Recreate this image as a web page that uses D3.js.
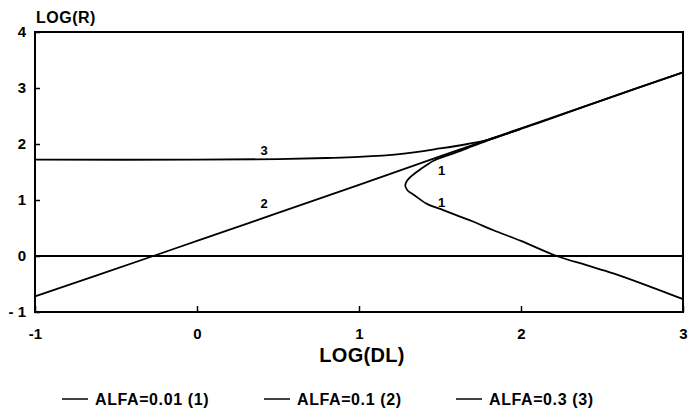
<!DOCTYPE html>
<html>
<head>
<meta charset="utf-8">
<script src="https://cdn.jsdelivr.net/npm/d3@7/dist/d3.min.js"></script>
<style>
  html, body { margin: 0; padding: 0; background: #fff; }
  svg { display: block; }
  text { font-family: "Liberation Sans", Arial, sans-serif; font-weight: bold; fill: #000; }
</style>
</head>
<body>
<svg id="chart" width="688" height="418"></svg>
<script>
// Axis ranges and tick values
const xDomain = [-1, 3];
const yDomain = [-1, 4];
const xTicks = [-1, 0, 1, 2, 3];
const yTicks = [-1, 0, 1, 2, 3, 4];

// ALFA=0.01 (1): C-shaped curve, upper branch joins curve 2, lower branch falls away
const curve1X = [2.0, 1.9, 1.8, 1.7, 1.6, 1.52, 1.46, 1.42, 1.356, 1.31, 1.29, 1.286, 1.30, 1.335, 1.42, 1.52, 1.6, 1.7, 1.83, 2.0, 2.22, 2.4, 2.57, 2.8, 3.0];
const curve1Y = [2.27, 2.17, 2.07, 1.96, 1.85, 1.77, 1.70, 1.63, 1.50, 1.39, 1.31, 1.25, 1.17, 1.10, 0.93, 0.82, 0.73, 0.62, 0.46, 0.27, 0.0, -0.16, -0.31, -0.55, -0.77];

// ALFA=0.1 (2): nearly straight rising line
const curve2X = [-1, -0.27, 0, 0.5, 1, 1.5, 2, 2.5, 3];
const curve2Y = [-0.72, 0.0, 0.27, 0.77, 1.27, 1.78, 2.28, 2.78, 3.28];

// ALFA=0.3 (3): flat plateau that bends up onto curve 2
const curve3X = [-1, 0, 0.5, 0.8, 1.0, 1.25, 1.5, 1.67, 1.8, 1.95, 2.1, 2.5, 3];
const curve3Y = [1.72, 1.72, 1.73, 1.75, 1.77, 1.82, 1.92, 2.0, 2.08, 2.22, 2.37, 2.78, 3.28];

// Reference line at LOG(R) = 0
const zeroLineY = 0;

// Curve number labels placed along the curves
const curveLabels = [
  { text: "3", x: 0.415, y: 1.89 },
  { text: "2", x: 0.415, y: 0.93 },
  { text: "1", x: 1.51, y: 1.52 },
  { text: "1", x: 1.51, y: 0.96 }
];

const legendItems = ["ALFA=0.01 (1)", "ALFA=0.1 (2)", "ALFA=0.3 (3)"];

const svg = d3.select("#chart");
const plot = { left: 35, right: 683, top: 32, bottom: 312 };

const x = d3.scaleLinear().domain(xDomain).range([plot.left, plot.right]);
const y = d3.scaleLinear().domain(yDomain).range([plot.bottom, plot.top]);

const zip = (xs, ys) => xs.map((v, i) => [v, ys[i]]);
const line = d3.line().x(d => x(d[0])).y(d => y(d[1])).curve(d3.curveCatmullRom.alpha(0.5));

// Frame
svg.append("rect")
  .attr("x", plot.left).attr("y", plot.top)
  .attr("width", plot.right - plot.left).attr("height", plot.bottom - plot.top)
  .attr("fill", "none").attr("stroke", "#000").attr("stroke-width", 2);

// Y axis with short inward ticks
const yAxis = svg.append("g")
  .attr("transform", `translate(${plot.left},0)`)
  .call(d3.axisLeft(y).tickValues(yTicks).tickSize(-5).tickPadding(9)
    .tickFormat(d => d < 0 ? "- " + Math.abs(d) : d));
yAxis.select(".domain").remove();
yAxis.selectAll("line").attr("stroke", "#000").attr("stroke-width", 1.5);
yAxis.selectAll("text").style("font-size", "15px").style("font-family", "Liberation Sans, Arial, sans-serif").style("font-weight", "bold");

// X axis with short inward ticks
const xAxis = svg.append("g")
  .attr("transform", `translate(0,${plot.bottom})`)
  .call(d3.axisBottom(x).tickValues(xTicks).tickSize(-6).tickPadding(16)
    .tickFormat(d => d));
xAxis.select(".domain").remove();
xAxis.selectAll("line").attr("stroke", "#000").attr("stroke-width", 1.5);
xAxis.selectAll("text").style("font-size", "15px").style("font-family", "Liberation Sans, Arial, sans-serif").style("font-weight", "bold");

// Axis titles
svg.append("text").attr("x", plot.left + 1).attr("y", 23)
  .style("font-size", "16px").style("letter-spacing", "0.5px").text("LOG(R)");
svg.append("text").attr("x", 362).attr("y", 362).attr("text-anchor", "middle")
  .style("font-size", "20px").style("letter-spacing", "0.3px").text("LOG(DL)");

// Zero reference line
svg.append("line")
  .attr("x1", x(xDomain[0])).attr("x2", x(xDomain[1]))
  .attr("y1", y(zeroLineY)).attr("y2", y(zeroLineY))
  .attr("stroke", "#000").attr("stroke-width", 1.8);

// Curves
const curves = [zip(curve1X, curve1Y), zip(curve2X, curve2Y), zip(curve3X, curve3Y)];
svg.append("g").selectAll("path").data(curves).join("path")
  .attr("d", line)
  .attr("fill", "none").attr("stroke", "#000").attr("stroke-width", 1.8);

// Curve labels
svg.append("g").selectAll("text").data(curveLabels).join("text")
  .attr("x", d => x(d.x)).attr("y", d => y(d.y))
  .attr("text-anchor", "middle").attr("dy", "0.35em")
  .style("font-size", "13px").text(d => d.text);

// Legend
const legendX = [62, 264, 456];
const legendY = 399;
const lg = svg.append("g").selectAll("g").data(legendItems).join("g")
  .attr("transform", (d, i) => `translate(${legendX[i]},${legendY})`);
lg.append("line").attr("x1", 0).attr("x2", 26).attr("y1", 0).attr("y2", 0)
  .attr("stroke", "#000").attr("stroke-width", 1.5);
lg.append("text").attr("x", 33).attr("y", 0).attr("dy", "0.36em")
  .style("font-size", "16px").style("letter-spacing", "0.6px").text(d => d);
</script>
</body>
</html>
